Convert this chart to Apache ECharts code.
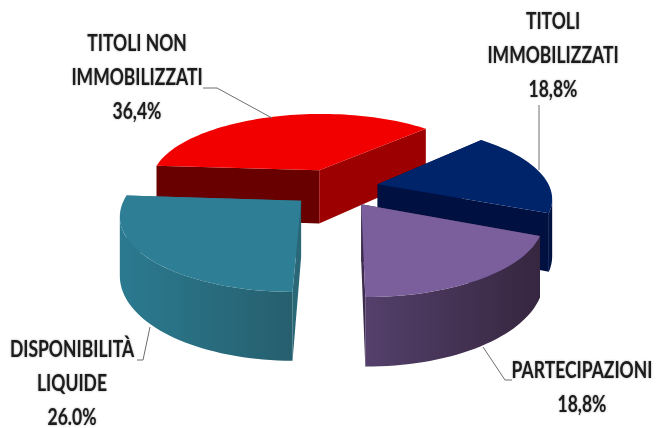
<!DOCTYPE html>
<html><head><meta charset="utf-8">
<style>html,body{margin:0;background:#fff}#c{width:656px;height:428px}</style>
<script src="https://cdn.jsdelivr.net/npm/echarts@6/dist/echarts.min.js"></script>
</head><body><div id="c"></div>
<script>
// data (clockwise from the left-hand edge)
const categories = ['TITOLI NON\nIMMOBILIZZATI', 'TITOLI\nIMMOBILIZZATI', 'PARTECIPAZIONI', 'DISPONIBILITÀ\nLIQUIDE'];
const values = [36.4, 18.8, 18.8, 26.0];
const valueLabels = ['36,4%', '18,8%', '18,8%', '26.0%'];

// styling and layout
const tops = ['#f20000', '#00246a', '#7b5f9d', '#2e7f96'];
const rims = [['#7a0000', '#7a0000'], ['#00164a', '#000f38'], ['#54406b', '#36263f'], ['#2b7a90', '#265f6e']];
const faces = [['#680000', '#9c0000'], ['#001040', '#001040'], ['#3d2c4d', '#3d2c4d'], ['#2a6878', '#2a6878']];
const explode = [45, 42, 44, 43];
const labelCenters = [[137, 44], [553, 22], [582, 371], [72, 350]];
const leaders = [
  [[203, 88], [217, 88], [272, 118]],
  [[539, 105], [539, 170]],
  [[483, 347], [505, 380], [512, 380]],
  [[137, 360], [143, 360], [150, 327]]
];
const drawOrder = [0, 1, 3, 2];
const START = 176, R = 165, DIST = 1031, CX = 335, CZ = -43, HORIZON = -238, HEIGHT = 408, THICK = 53, LINE = 34;
const RIM_FROM = -12, RIM_TO = -168;

function project(X, Z, bottom) {
  const p = DIST / (DIST + Z);
  return [CX + X * p, HORIZON + (HEIGHT + (bottom ? THICK : 0)) * p];
}
const rad = d => d * Math.PI / 180;

// slice angles come from the values
const spans = [];
let a0 = START;
values.forEach(v => {
  const a1 = a0 - v / 100 * 360;
  spans.push([a0, a1]);
  a0 = a1;
});

function arc(ax, az, from, to, bottom) {
  const n = Math.max(2, Math.ceil(Math.abs(to - from) / 2));
  const pts = [];
  for (let i = 0; i <= n; i++) {
    const t = rad(from + (to - from) * i / n);
    pts.push(project(ax + R * Math.cos(t), az + R * Math.sin(t), bottom));
  }
  return pts;
}
const hgrad = c => new echarts.graphic.LinearGradient(0, 0, 1, 0, [{offset: 0, color: c[0]}, {offset: 1, color: c[1]}]);

function renderItem(params, api) {
  const i = drawOrder[params.dataIndex];
  const [s, e] = spans[i];
  const mid = rad((s + e) / 2);
  const ax = explode[i] * Math.cos(mid), az = CZ + explode[i] * Math.sin(mid);
  const children = [];
  const poly = (points, fill) => children.push({type: 'polygon', shape: {points}, style: {fill}});
  // radial faces
  [s, e].forEach((ang, k) => {
    const t = rad(ang), ox = ax + R * Math.cos(t), oz = az + R * Math.sin(t);
    poly([project(ax, az), project(ox, oz), project(ox, oz, true), project(ax, az, true)], k === 0 ? faces[i][0] : faces[i][1]);
  });
  // outer rim: only the part between the silhouette tangents
  const rs = Math.min(s, RIM_FROM), re = Math.max(e, RIM_TO);
  if (rs > re) {
    poly(arc(ax, az, rs, re, false).concat(arc(ax, az, re, rs, true)), hgrad(rims[i]));
  }
  // top surface
  poly([project(ax, az)].concat(arc(ax, az, s, e, false)), tops[i]);
  // leader line
  children.push({type: 'polyline', shape: {points: leaders[i]}, style: {fill: null, stroke: '#6e6e6e', lineWidth: 1}});
  // label
  const lines = categories[i].split('\n').concat(valueLabels[i]);
  lines.forEach((txt, k) => children.push({
    type: 'text',
    x: labelCenters[i][0], y: labelCenters[i][1] + k * LINE, scaleY: 1.25,
    style: {
      text: txt, x: 0, y: 0,
      align: 'center', verticalAlign: 'middle', textAlign: 'center', textVerticalAlign: 'middle',
      font: 'bold 17.5px Lato', fill: '#1c1c1c', textShadowColor: 'rgba(0,0,0,0.4)', textShadowBlur: 2
    }
  }));
  return {type: 'group', children};
}

const chart = echarts.init(document.getElementById('c'), null, {renderer: 'canvas'});
chart.setOption({
  animation: false,
  backgroundColor: '#ffffff',
  series: [{
    type: 'custom',
    coordinateSystem: 'none',
    renderItem,
    data: drawOrder.map(i => [values[i]])
  }]
});
</script></body></html>
